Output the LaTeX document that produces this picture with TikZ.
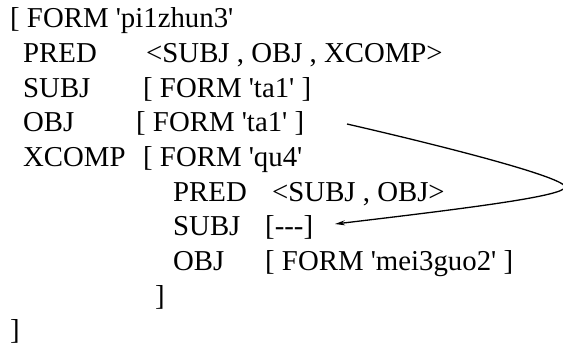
\documentclass[tikz,border=0pt]{standalone}
\usepackage{fontspec}
\usepackage{tikz}
\usetikzlibrary{arrows.meta}
% plain quotes and hyphens, no TeX ligatures
\newfontfamily\fsfont{Liberation Serif}[Ligatures=TeXOff]

\begin{document}
\begin{tikzpicture}[x=1pt,y=-1pt,>={Stealth[length=10pt,width=5pt]},
    fs/.style={inner sep=0pt,anchor=base west,font=\fsfont\fontsize{28.8}{34}\selectfont}]
  \useasboundingbox (0,0) rectangle (563,347);
  % outer f-structure
  \node[fs] (open) at (10,28) {[ FORM 'pi1zhun3'};
  \node[fs] (pred) at (23,62.7) {PRED};
  \node[fs] (predv) at (146,62.7) {<SUBJ , OBJ , XCOMP>};
  \node[fs] (subj) at (23,97.3) {SUBJ};
  \node[fs] (subjv) at (143,97.3) {[ FORM 'ta1' ]};
  \node[fs] (obj) at (23,132) {OBJ};
  \node[fs] (objv) at (136,132) {[ FORM 'ta1' ]};
  \node[fs] (xcomp) at (23,166.7) {XCOMP};
  \node[fs] (xcompv) at (143,166.7) {[ FORM 'qu4'};
  % embedded XCOMP
  \node[fs] (xpred) at (173,201.3) {PRED};
  \node[fs] (xpredv) at (272,201.3) {<SUBJ , OBJ>};
  \node[fs] (xsubj) at (173,236) {SUBJ};
  \node[fs] (xsubjv) at (265,236) {[---]};
  \node[fs] (xobj) at (173,270.7) {OBJ};
  \node[fs] (xobjv) at (265,270.7) {[ FORM 'mei3guo2' ]};
  \node[fs] (xclose) at (155,305.3) {]};
  \node[fs] (close) at (10,340) {]};
  % control link OBJ -> XCOMP SUBJ
  \coordinate (from) at (347,124);
  \coordinate (tip) at (565,187);
  \coordinate (to) at (335,224);
  \draw[->, line width=1.3pt] (from) .. controls (460,150) and (565,178) .. (tip)
    .. controls (565,196) and (470,208) .. (to);
\end{tikzpicture}
\end{document}
